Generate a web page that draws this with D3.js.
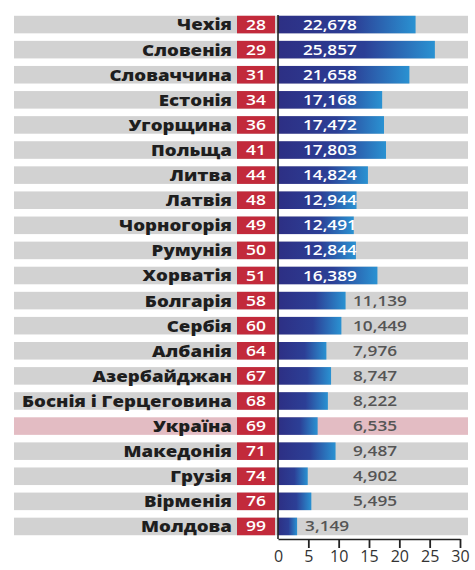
<!DOCTYPE html>
<meta charset="UTF-8">
<style>
  body { margin: 0; background: #fff; }
  text { font-family: "Open Sans", sans-serif; }
</style>
<svg width="475" height="570"></svg>
<script src="https://d3js.org/d3.v7.min.js"></script>
<script>

var countries = ["Чехія", "Словенія", "Словаччина", "Естонія", "Угорщина", "Польща", "Литва",
    "Латвія", "Чорногорія", "Румунія", "Хорватія", "Болгарія", "Сербія", "Албанія",
    "Азербайджан", "Боснія і Герцеговина", "Україна", "Македонія", "Грузія", "Вірменія", "Молдова"];
var ranks = [28, 29, 31, 34, 36, 41, 44, 48, 49, 50, 51, 58, 60, 64, 67, 68, 69, 71, 74, 76, 99];
var values = [22.678, 25.857, 21.658, 17.168, 17.472, 17.803, 14.824, 12.944, 12.491, 12.844, 16.389,
    11.139, 10.449, 7.976, 8.747, 8.222, 6.535, 9.487, 4.902, 5.495, 3.149];
var ticks = [0, 5, 10, 15, 20, 25, 30];
var highlight = "Україна";

var svg = d3.select("svg");

var x = d3.scaleLinear().domain([0, 30]).range([278, 460]);
var y = d3.scaleBand().domain(countries).range([12, 539]).paddingInner(0.3).paddingOuter(0.15);

var grad = svg.append("defs").append("linearGradient").attr("id", "barGrad");
grad.append("stop").attr("offset", "0%").attr("stop-color", "#2d2f84");
grad.append("stop").attr("offset", "55%").attr("stop-color", "#2c3f96");
grad.append("stop").attr("offset", "100%").attr("stop-color", "#2a92d2");

var fmt = d3.format(",.3f");
function label(v) { return fmt(v).replace(".", ","); }

// stretch a text selection horizontally so the widest one hits `target` px
function stretch(sel, target) {
  var w = d3.max(sel.nodes(), n => n.getComputedTextLength());
  var k = target / w;
  sel.attr("transform", function() {
    var ax = +this.getAttribute("x");
    return "translate(" + ax + ",0) scale(" + k + ",1) translate(" + (-ax) + ",0)";
  });
}

var rows = svg.selectAll("g.row").data(countries).join("g")
    .attr("class", "row")
    .attr("transform", d => "translate(0," + y(d) + ")");

// row backgrounds
rows.append("rect")
    .attr("x", 14).attr("width", 454).attr("height", y.bandwidth())
    .attr("fill", d => d === highlight ? "#e3bcc3" : "#d2d2d2");

var names = rows.append("text")
    .attr("x", 232).attr("y", y.bandwidth() / 2).attr("dy", "0.36em")
    .attr("text-anchor", "end")
    .attr("font-size", 16.5).attr("font-weight", 800).attr("fill", "#1e1e1e")
    .text(d => d);
stretch(names, 210);

// rank boxes
rows.append("rect")
    .attr("x", 237).attr("width", 38).attr("height", y.bandwidth())
    .attr("fill", "#c22a3b");
var rk = rows.append("text")
    .attr("x", 256).attr("y", y.bandwidth() / 2).attr("dy", "0.36em")
    .attr("text-anchor", "middle")
    .attr("font-size", 14).attr("font-weight", 600).attr("fill", "#fff")
    .text((d, i) => ranks[i]);
stretch(rk, 20);

// bars
rows.append("rect")
    .attr("x", x(0)).attr("width", (d, i) => x(values[i]) - x(0)).attr("height", y.bandwidth())
    .attr("fill", "url(#barGrad)");

var vl = rows.append("text")
    .attr("x", (d, i) => {
      var v = values[i];
      if (v >= 12) return x(0) + 25;
      if (v < 4) return x(v) + 8;
      return x(0) + 75;
    })
    .attr("y", y.bandwidth() / 2).attr("dy", "0.36em")
    .attr("font-size", 14).attr("font-weight", 600)
    .attr("fill", (d, i) => values[i] >= 12 ? "#fff" : "#555")
    .text((d, i) => label(values[i]));
stretch(vl, 54);

// axis
svg.append("line")
    .attr("x1", x(0)).attr("x2", x(0)).attr("y1", 15).attr("y2", 539)
    .attr("stroke", "#222").attr("stroke-width", 1.6);

var axis = svg.append("g").attr("transform", "translate(0,539)")
    .call(d3.axisBottom(x).tickValues(ticks).tickSize(9).tickSizeOuter(0).tickFormat(d3.format("d")));
axis.select(".domain").attr("stroke", "#222").attr("stroke-width", 1.6);
axis.selectAll(".tick line").attr("stroke", "#222").attr("stroke-width", 1.8)
    .filter(d => d === 0).remove();
axis.selectAll(".tick text").attr("font-family", "Open Sans, sans-serif")
    .attr("font-size", 16).attr("fill", "#333").attr("y", 12);

</script>
